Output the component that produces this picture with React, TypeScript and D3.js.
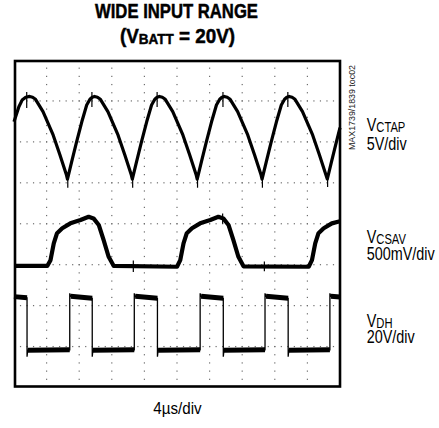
import React from 'react';
import * as d3 from 'd3';

// time in divisions (0-10), amplitude in divisions from bottom of screen (0-8)
const ctap: [number, number][] = [
  [0, 6.49], [0.15, 6.86], [0.25, 7.02], [0.36, 7.09], [0.48, 7.11], [0.57, 7.09], [0.66, 7.04], [0.89, 6.74], [1.2, 6.17], [1.41, 5.68], [1.61, 5.19], [1.64, 5.09],
  [1.77, 5.52], [1.92, 6.0], [2.08, 6.49], [2.23, 6.9], [2.33, 7.04], [2.4, 7.09], [2.47, 7.11], [2.56, 7.09], [2.65, 7.04], [2.88, 6.74], [3.19, 6.17], [3.4, 5.68], [3.6, 5.19], [3.63, 5.09],
  [3.76, 5.52], [3.91, 6.0], [4.07, 6.49], [4.22, 6.9], [4.32, 7.04], [4.39, 7.09], [4.46, 7.11], [4.55, 7.09], [4.64, 7.04], [4.87, 6.74], [5.18, 6.17], [5.39, 5.68], [5.59, 5.19], [5.62, 5.09],
  [5.75, 5.52], [5.9, 6.0], [6.06, 6.49], [6.21, 6.9], [6.31, 7.04], [6.38, 7.09], [6.45, 7.11], [6.54, 7.09], [6.63, 7.04], [6.86, 6.74], [7.17, 6.17], [7.38, 5.68], [7.58, 5.19], [7.61, 5.09],
  [7.74, 5.52], [7.89, 6.0], [8.05, 6.49], [8.2, 6.9], [8.3, 7.04], [8.37, 7.09], [8.44, 7.11], [8.53, 7.09], [8.62, 7.04], [8.85, 6.74], [9.16, 6.17], [9.37, 5.68], [9.57, 5.19], [9.61, 5.09],
  [9.74, 5.52], [9.89, 6.0], [10, 6.35],
];
const ctapSpikes: [number, number, number][] = [
  [0.39, 6.83, 7.22], [1.65, 4.88, 5.24], [2.39, 6.85, 7.22], [3.64, 4.88, 5.24], [4.39, 6.85, 7.22],
  [5.63, 4.88, 5.24], [6.41, 6.85, 7.22], [7.62, 4.88, 5.24], [8.4, 6.85, 7.22], [9.62, 4.9, 5.24],
];

const csav: [number, number][] = [
  [0, 2.97], [1.02, 2.97], [1.12, 3.11], [1.22, 3.52], [1.32, 3.77], [1.48, 3.89], [1.73, 4.01], [2.04, 4.09], [2.29, 4.17], [2.44, 4.13], [2.6, 3.97], [2.75, 3.6], [2.9, 3.2], [3.06, 2.97],
  [5.0, 2.95], [5.1, 3.11], [5.2, 3.52], [5.3, 3.77], [5.46, 3.89], [5.71, 4.01], [6.02, 4.09], [6.27, 4.17], [6.42, 4.13], [6.58, 3.97], [6.73, 3.6], [6.88, 3.2], [7.04, 2.96],
  [9.04, 2.95], [9.14, 3.11], [9.24, 3.52], [9.34, 3.77], [9.5, 3.89], [9.75, 4.01], [10, 4.06],
];
const csavSpikes: [number, number, number][] = [
  [3.66, 2.82, 3.1], [6.4, 4.0, 4.25], [7.68, 2.84, 3.08],
];

const dh: [number, number][] = [
  [0, 2.22], [0.4, 2.19], [0.4, 0.75], [0.42, 0.91], [1.71, 0.92], [1.71, 2.3], [1.74, 2.23], [2.4, 2.18],
  [2.4, 0.75], [2.42, 0.91], [3.69, 0.92], [3.69, 2.3], [3.72, 2.23], [4.4, 2.18],
  [4.4, 0.75], [4.42, 0.91], [5.71, 0.92], [5.71, 2.3], [5.74, 2.23], [6.42, 2.18],
  [6.42, 0.75], [6.44, 0.91], [7.7, 0.92], [7.7, 2.3], [7.73, 2.23], [8.41, 2.18],
  [8.41, 0.75], [8.43, 0.91], [9.69, 0.92], [9.69, 2.3], [9.72, 2.23], [10, 2.21],
];

const titleLines = ['WIDE INPUT RANGE'];
const xLabel = '4\u00b5s/div';
const note = 'MAX1739/1839 toc02';
const channels = [
  { name: 'V', sub: 'CTAP', scale: '5V/div' },
  { name: 'V', sub: 'CSAV', scale: '500mV/div' },
  { name: 'V', sub: 'DH', scale: '20V/div' },
];
const channelBase = [131, 243.3, 326.7];
const channelGap = [19, 16.8, 16.8];

const FONT = "'Liberation Sans Narrow','Liberation Sans',Arial,sans-serif";

export default function App() {
  const x = d3.scaleLinear().domain([0, 10]).range([14, 340]);
  const y = d3.scaleLinear().domain([0, 8]).range([387.5, 60]);
  const line = d3.line<[number, number]>().x(d => x(d[0])).y(d => y(d[1]));

  const vTicks = x.ticks(10).filter(t => t > 0 && t < 10);
  const hTicks = y.ticks(8).filter(t => t > 0 && t < 8);
  const dots: { cx: number; cy: number }[] = [];
  vTicks.forEach(t => d3.range(0.2, 8, 0.2).forEach(v => dots.push({ cx: x(t), cy: y(v) })));
  hTicks.forEach(v => d3.range(0.2, 10, 0.2).forEach(t => dots.push({ cx: x(t), cy: y(v) })));

  // flat parts of the gate drive trace carry the noise band
  const dhFlat = dh.slice(1).map((d, i) => [dh[i], d]).filter(([a, b]) => b[0] - a[0] > 0.1);

  return (
    <svg width={439} height={428} style={{ position: 'absolute', left: 0, top: 0, background: '#fff' }} fontFamily={FONT}>
      <text x={176.5} y={18.3} textAnchor="middle" fontSize={21} fontWeight="bold" textLength={163} lengthAdjust="spacingAndGlyphs" stroke="#000" strokeWidth={0.5}>{titleLines[0]}</text>
      <text x={120} y={43.3} fontSize={21} fontWeight="bold" textLength={115} lengthAdjust="spacingAndGlyphs" stroke="#000" strokeWidth={0.5}>
        (V<tspan fontSize={15} dy={1}>BATT</tspan><tspan dy={-1}> = 20V)</tspan>
      </text>

      <g>
        {dots.map((d, i) => (
          <rect key={i} x={d.cx - 0.6} y={d.cy - 0.6} width={1.2} height={1.2} fill="#6e6e6e" />
        ))}
      </g>

      <path d={line(ctap) || ''} fill="none" stroke="#000" strokeWidth={3.2} strokeLinejoin="round" />
      {ctapSpikes.map((s, i) => (
        <line key={i} x1={x(s[0])} x2={x(s[0])} y1={y(s[1])} y2={y(s[2])} stroke="#000" strokeWidth={1.2} />
      ))}

      <path d={line(csav) || ''} fill="none" stroke="#000" strokeWidth={4.2} strokeLinejoin="round" />
      {csavSpikes.map((s, i) => (
        <line key={i} x1={x(s[0])} x2={x(s[0])} y1={y(s[1])} y2={y(s[2])} stroke="#000" strokeWidth={1.2} />
      ))}

      <path d={line(dh) || ''} fill="none" stroke="#000" strokeWidth={1.3} />
      {dhFlat.map(([a, b], i) => (
        <line key={i} x1={x(a[0])} x2={x(b[0])} y1={y(a[1])} y2={y(b[1])} stroke="#000" strokeWidth={5} />
      ))}

      <rect x={15} y={61} width={325} height={325.5} fill="none" stroke="#000" strokeWidth={2.6} />

      <text transform="translate(354.5,150) rotate(-90)" fontSize={9} textLength={85} lengthAdjust="spacingAndGlyphs" fill="#222">{note}</text>

      {channels.map((c, i) => (
        <g key={c.sub} transform={`translate(366.7,${channelBase[i]}) scale(0.8,1)`}>
          <text x={0} y={0} fontSize={18}>
            <tspan>{c.name}</tspan>
            <tspan fontSize={14} dy={0.8}>{c.sub}</tspan>
            <tspan x={0} dy={channelGap[i] - 0.8}>{c.scale}</tspan>
          </text>
        </g>
      ))}

      <text x={153.3} y={414} fontSize={17} textLength={48.4} lengthAdjust="spacingAndGlyphs">{xLabel}</text>
    </svg>
  );
}
